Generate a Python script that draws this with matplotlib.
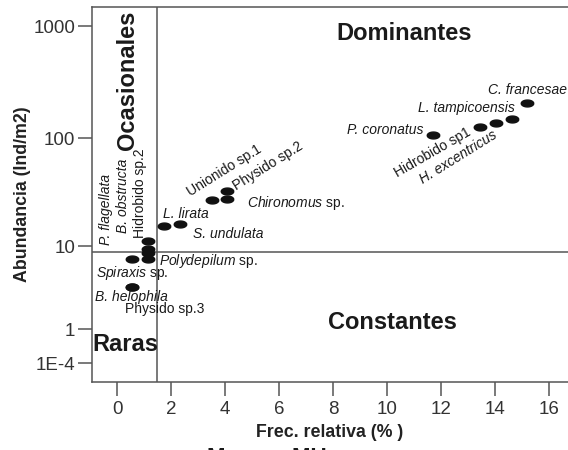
import numpy as np
import matplotlib
matplotlib.use("Agg")
import matplotlib.pyplot as plt

plt.rcParams['font.family'] = ['Liberation Sans', 'DejaVu Sans']
plt.rcParams['mathtext.fontset'] = 'custom'
plt.rcParams['mathtext.it'] = 'Liberation Sans:italic'
plt.rcParams['mathtext.rm'] = 'Liberation Sans'

# data
species = ["P. flagellata", "B. obstructa", "Hidrobido sp.2", "Polydepilum sp.",
           "Spiraxis sp.", "B. helophila", "Physido sp.3", "L. lirata",
           "S. undulata", "Unionido sp.1", "Physido sp.2", "Chironomus sp.",
           "P. coronatus", "Hidrobido sp1", "L. tampicoensis", "H. excentricus",
           "C. francesae"]
frec = [1.15, 1.15, 1.15, 1.15, 0.56, 0.56, 0.56, 1.74, 2.33, 3.52, 4.07, 4.07,
        11.7, 13.44, 14.04, 14.63, 15.19]
abund = [9.3, 8.5, 11.2, 7.4, 7.4, 3.75, 3.75, 15.6, 16.3, 27.3, 33.0, 27.9,
         106, 125, 136, 148, 206]

frec_limit = 1.48
abund_limit = 8.73

ytick_vals = [1e-4, 1, 10, 100, 1000]
ytick_labels = ["1E-4", "1", "10", "100", "1000"]
xtick_vals = [0, 2, 4, 6, 8, 10, 12, 14, 16]

# names fully in italics, and names with italic genus + plain "sp."
all_italic = ["P. flagellata", "B. obstructa", "B. helophila", "L. lirata",
              "S. undulata", "P. coronatus", "L. tampicoensis", "H. excentricus",
              "C. francesae"]
genus_italic = {
    "Polydepilum sp.": r"$\mathit{Polydepilum}$ sp.",
    "Spiraxis sp.": r"$\mathit{Spiraxis}$ sp.",
    "Chironomus sp.": r"$\mathit{Chironomus}$ sp.",
}
# label placement: (dx px, dy px, ha, va, rotation)
placement = {
    "P. flagellata": (-42, 4, "center", "bottom", 90),
    "B. obstructa": (-25, 20, "center", "bottom", 90),
    "Hidrobido sp.2": (-8, 3, "center", "bottom", 90),
    "Polydepilum sp.": (11, -2, "left", "center", 0),
    "Spiraxis sp.": (-36, -14, "left", "center", 0),
    "B. helophila": (-37, -10, "left", "center", 0),
    "Physido sp.3": (-7, -22, "left", "center", 0),
    "L. lirata": (-1, 12, "left", "center", 0),
    "S. undulata": (13, -10, "left", "center", 0),
    "Unionido sp.1": (-22, 4, "left", "baseline", 32),
    "Physido sp.2": (9, 1, "left", "baseline", 32),
    "Chironomus sp.": (20, -4, "left", "center", 0),
    "P. coronatus": (-10, 5, "right", "center", 0),
    "Hidrobido sp1": (-8, -7, "right", "baseline", 30),
    "L. tampicoensis": (-30, 15, "center", "center", 0),
    "H. excentricus": (-14, -18, "right", "baseline", 32),
    "C. francesae": (0, 13, "center", "center", 0),
}

fig = plt.figure(figsize=(5.68, 4.5), dpi=100)
ax = fig.add_axes([0.162, 0.151, 0.838, 0.833])

ax.set_yscale('function', functions=(lambda v: np.log10(np.clip(v + 1, 1e-9, None)),
                                     lambda v: 10 ** v - 1))

t = np.linspace(0, 2 * np.pi, 40)
ellipse = np.column_stack([np.cos(t), 0.55 * np.sin(t)])
ax.plot(frec, abund, linestyle='none', marker=ellipse, markersize=9,
        color='#111111', zorder=3)

for name, x, y in zip(species, frec, abund):
    dx, dy, ha, va, rot = placement[name]
    txt = genus_italic.get(name, name)
    style = 'italic' if name in all_italic else 'normal'
    mode = 'default' if rot == 90 else 'anchor'
    ax.annotate(txt, (x, y), xytext=(dx, dy), textcoords='offset pixels',
                ha=ha, va=va, rotation=rot, rotation_mode=mode,
                fontsize=10, style=style, color='#1a1a1a')

line_c = '#555555'
ax.axvline(frec_limit, color=line_c, lw=1.1)
ax.axhline(abund_limit, color=line_c, lw=1.1)

ax.set_xlim(-0.93, 16.7)
ax.set_ylim(-0.32, 1478)
ax.set_xticks(xtick_vals)
ax.set_yticks(ytick_vals)
ax.set_yticklabels(ytick_labels)
ax.minorticks_off()
ax.tick_params(direction='out', length=10, width=1.1, color=line_c,
               labelsize=13.5, labelcolor='#333333', pad=2)
ax.tick_params(axis='x', pad=4)
for s in ['left', 'bottom', 'top']:
    ax.spines[s].set_color(line_c)
    ax.spines[s].set_linewidth(1.1)
ax.spines['right'].set_visible(False)

ax.set_xlabel("Frec. relativa (% )", fontsize=12.8, fontweight='bold',
              color='#222222', labelpad=4)
ax.set_ylabel("Abundancia (Ind/m2)", fontsize=12.8, fontweight='bold',
              color='#222222', labelpad=2)

quad_kw = dict(fontsize=17, fontweight='bold', color='#1a1a1a', transform=ax.transAxes)
ax.text(0.655, 0.93, "Dominantes", ha='center', va='center', **quad_kw)
ax.text(0.632, 0.158, "Constantes", ha='center', va='center', **quad_kw)
ax.text(0.07, 0.10, "Raras", ha='center', va='center', **quad_kw)
ax.text(0.075, 0.805, "Ocasionales", ha='center', va='center', rotation=90, **quad_kw)

fig.text(0.47, 0.006, "Margen MU", fontsize=16, fontweight='bold',
         color='#1a1a1a', ha='center', va='top')

fig.savefig("out.png", dpi=100)
